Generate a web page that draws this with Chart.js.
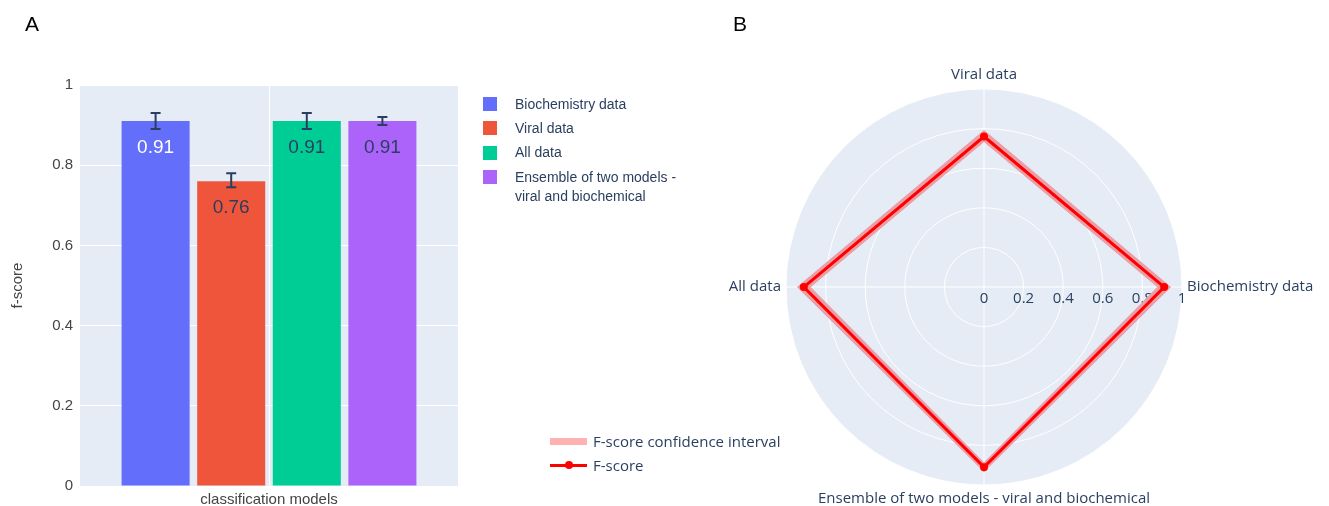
<!DOCTYPE html>
<html>
<head>
<meta charset="utf-8">
<script src="https://cdn.jsdelivr.net/npm/chart.js@4.4.1/dist/chart.umd.min.js"></script>
<style>
html,body{margin:0;padding:0;width:1329px;height:506px;overflow:hidden;background:#fff;}
#wrap{position:relative;width:1329px;height:506px;overflow:hidden;}
canvas{position:absolute;top:0;}
#cA{left:0;}
#cB{left:600px;}
.panel{position:absolute;font-family:'Liberation Sans',Arial,sans-serif;font-size:21px;color:#000;line-height:24px;}
#legA{position:absolute;left:483px;top:94.5px;font-family:'Liberation Sans',Arial,sans-serif;font-size:14px;color:#2a3f5f;}
#legA .item{display:flex;align-items:flex-start;margin-bottom:5.4px;line-height:19px;}
#legA .sw{width:14px;height:14px;margin-top:2.5px;margin-right:18px;flex:none;}
#legA .tx{width:185px;}
#legB{position:absolute;left:550px;top:432px;font-family:'Open Sans',sans-serif;font-size:15px;color:#2a3f5f;}
#legB .item{display:flex;align-items:center;height:18px;margin-bottom:6px;line-height:18px;}
#legB .sw{position:relative;width:37px;height:18px;margin-right:6px;flex:none;}
#legB .band{position:absolute;left:0;top:5.5px;width:37px;height:7px;}
#legB .ln{position:absolute;left:0;top:7.5px;width:37px;height:3px;}
#legB .dot{position:absolute;left:14.5px;top:5px;width:8px;height:8px;border-radius:50%;}
</style>
</head>
<body>
<div id="wrap">
  <canvas id="cA" width="470" height="506"></canvas>
  <canvas id="cB" width="768" height="510"></canvas>
  <div class="panel" style="left:25px;top:12px;">A</div>
  <div class="panel" style="left:733px;top:12px;">B</div>
  <div id="legA"></div>
  <div id="legB"></div>
</div>
<script>
// ---------- data ----------
const models = ['Biochemistry data', 'Viral data', 'All data', 'Ensemble of two models - viral and biochemical'];
const fScore = [0.91, 0.76, 0.91, 0.91];
const ciLower = [0.89, 0.745, 0.89, 0.90];
const ciUpper = [0.93, 0.78, 0.93, 0.92];
const barColors = ['#636EFA', '#EF553B', '#00CC96', '#AB63FA'];
const valueLabelColors = ['#ffffff', '#2a3f5f', '#2a3f5f', '#2a3f5f'];
const barCategory = ['classification models'];
const yTickValues = [0, 0.2, 0.4, 0.6, 0.8, 1];
const radarTickValues = [0, 0.2, 0.4, 0.6, 0.8, 1];
const radarAxisOrder = ['Viral data', 'Biochemistry data', 'Ensemble of two models - viral and biochemical', 'All data'];
const radarSeriesNames = ['F-score confidence interval', 'F-score'];
const ciColor = 'rgba(255,0,0,0.3)';      // on white (legend)
const ciOnDisc = 'rgb(236,158,166)';      // same tint seen over the polar background
const lineColor = '#FF0000';

const fontA = '"Liberation Sans", Arial, sans-serif';
const fontB = '"Open Sans", sans-serif';
const textColor = '#2a3f5f';

// ---------- legends (HTML text) ----------
const legA = document.getElementById('legA');
models.forEach((m, i) => {
  const it = document.createElement('div'); it.className = 'item';
  const sw = document.createElement('div'); sw.className = 'sw'; sw.style.background = barColors[i];
  const tx = document.createElement('div'); tx.className = 'tx'; tx.textContent = m;
  it.appendChild(sw); it.appendChild(tx); legA.appendChild(it);
});
const legB = document.getElementById('legB');
(function(){
  const it1 = document.createElement('div'); it1.className = 'item';
  const sw1 = document.createElement('div'); sw1.className = 'sw';
  const band = document.createElement('div'); band.className = 'band'; band.style.background = ciColor;
  sw1.appendChild(band);
  const t1 = document.createElement('div'); t1.textContent = radarSeriesNames[0];
  it1.appendChild(sw1); it1.appendChild(t1); legB.appendChild(it1);
  const it2 = document.createElement('div'); it2.className = 'item';
  const sw2 = document.createElement('div'); sw2.className = 'sw';
  const ln = document.createElement('div'); ln.className = 'ln'; ln.style.background = lineColor;
  const dot = document.createElement('div'); dot.className = 'dot'; dot.style.background = lineColor;
  sw2.appendChild(ln); sw2.appendChild(dot);
  const t2 = document.createElement('div'); t2.textContent = radarSeriesNames[1];
  it2.appendChild(sw2); it2.appendChild(t2); legB.appendChild(it2);
})();

// ---------- plugins ----------
const barExtras = {
  id: 'barExtras',
  beforeDraw(chart) {
    const {ctx, chartArea: a} = chart;
    ctx.save();
    ctx.fillStyle = '#E5ECF6';
    ctx.fillRect(a.left, a.top, a.right - a.left, a.bottom - a.top);
    ctx.restore();
  },
  afterDatasetsDraw(chart) {
    const ctx = chart.ctx;
    const ys = chart.scales.y;
    chart.data.datasets.forEach((ds, i) => {
      const bar = chart.getDatasetMeta(i).data[0];
      ctx.save();
      ctx.font = '19px ' + fontA;
      ctx.fillStyle = valueLabelColors[i];
      ctx.textAlign = 'center';
      ctx.textBaseline = 'middle';
      ctx.fillText(fScore[i].toFixed(2), bar.x, bar.y + 26.5);
      const yl = ys.getPixelForValue(ciLower[i]);
      const yh = ys.getPixelForValue(ciUpper[i]);
      ctx.strokeStyle = '#2a3f5f';
      ctx.lineWidth = 2;
      ctx.beginPath();
      ctx.moveTo(bar.x, yl); ctx.lineTo(bar.x, yh);
      ctx.moveTo(bar.x - 5, yl); ctx.lineTo(bar.x + 5, yl);
      ctx.moveTo(bar.x - 5, yh); ctx.lineTo(bar.x + 5, yh);
      ctx.stroke();
      ctx.restore();
    });
  }
};

const radarTicks = {
  id: 'radarTicks',
  beforeDatasetsDraw(chart) {
    const s = chart.scales.r, ctx = chart.ctx;
    ctx.save();
    ctx.font = '15px ' + fontB;
    ctx.fillStyle = textColor;
    ctx.textAlign = 'center';
    ctx.textBaseline = 'middle';
    radarTickValues.forEach(v => {
      ctx.fillText(String(v), s.xCenter + s.getDistanceFromCenterForValue(v), s.yCenter + 12);
    });
    ctx.restore();
  }
};

function draw() {
  // ---------- Panel A: bar chart ----------
  new Chart(document.getElementById('cA'), {
    type: 'bar',
    data: {
      labels: barCategory,
      datasets: models.map((m, i) => ({
        label: m,
        data: [fScore[i]],
        backgroundColor: barColors[i],
        borderWidth: 0,
        categoryPercentage: 0.8,
        barPercentage: 0.9
      }))
    },
    options: {
      responsive: false,
      animation: false,
      layout: {padding: {top: 85, right: 12, left: 0, bottom: 0}},
      plugins: {legend: {display: false}, tooltip: {enabled: false}},
      scales: {
        x: {
          grid: {offset: false, color: '#ffffff', lineWidth: 1, drawTicks: false},
          border: {display: false},
          ticks: {padding: 5, color: '#444', font: {family: fontA, size: 15}},
          afterFit(s) { s.height = 20; }
        },
        y: {
          min: 0, max: 1,
          afterBuildTicks(s) { s.ticks = yTickValues.map(v => ({value: v})); },
          grid: {color: '#ffffff', lineWidth: 1, drawTicks: false},
          border: {display: false},
          ticks: {padding: 7, color: '#444', font: {family: fontA, size: 15}, callback: v => String(v)},
          title: {display: true, text: 'f-score', color: '#444', font: {family: fontA, size: 15}, padding: {top: 9, bottom: 0}},
          afterFit(s) { s.width = 80; }
        }
      }
    },
    plugins: [barExtras]
  });

  // ---------- Panel B: radar chart ----------
  const rIdx = radarAxisOrder.map(n => models.indexOf(n));
  const rScore = rIdx.map(i => fScore[i]);
  const rLow = rIdx.map(i => ciLower[i]);
  const rUp = rIdx.map(i => ciUpper[i]);

  new Chart(document.getElementById('cB'), {
    type: 'radar',
    data: {
      labels: radarAxisOrder,
      datasets: [
        {label: 'lower', data: rLow, order: 2, borderColor: ciOnDisc, borderWidth: 4, pointRadius: 0, fill: false},
        {label: radarSeriesNames[0], data: rUp, order: 1, borderColor: ciOnDisc, borderWidth: 4, pointRadius: 0, fill: '-1', backgroundColor: ciOnDisc},
        {label: radarSeriesNames[1], data: rScore, order: 0, borderColor: lineColor, borderWidth: 3, pointRadius: 4, pointBackgroundColor: lineColor, pointBorderWidth: 0, fill: false}
      ]
    },
    options: {
      responsive: false,
      animation: false,
      layout: {padding: {top: 66, left: 0, right: 0, bottom: 2}},
      plugins: {legend: {display: false}, tooltip: {enabled: false}},
      elements: {line: {tension: 0}},
      scales: {
        r: {
          min: 0, max: 1,
          startAngle: 0,
          backgroundColor: '#E5ECF6',
          grid: {circular: true, color: '#ffffff', lineWidth: 1},
          angleLines: {color: '#ffffff', lineWidth: 1},
          ticks: {display: false, stepSize: 0.2},
          pointLabels: {color: textColor, padding: 5, font: {family: fontB, size: 15}}
        }
      }
    },
    plugins: [radarTicks]
  });
}

const fontReady = (document.fonts && document.fonts.load)
  ? Promise.all([document.fonts.load('15px "Open Sans"'), document.fonts.load('15px "Liberation Sans"')]).catch(() => {})
  : Promise.resolve();
Promise.race([fontReady, new Promise(r => setTimeout(r, 800))]).then(draw);
</script>
</body>
</html>
